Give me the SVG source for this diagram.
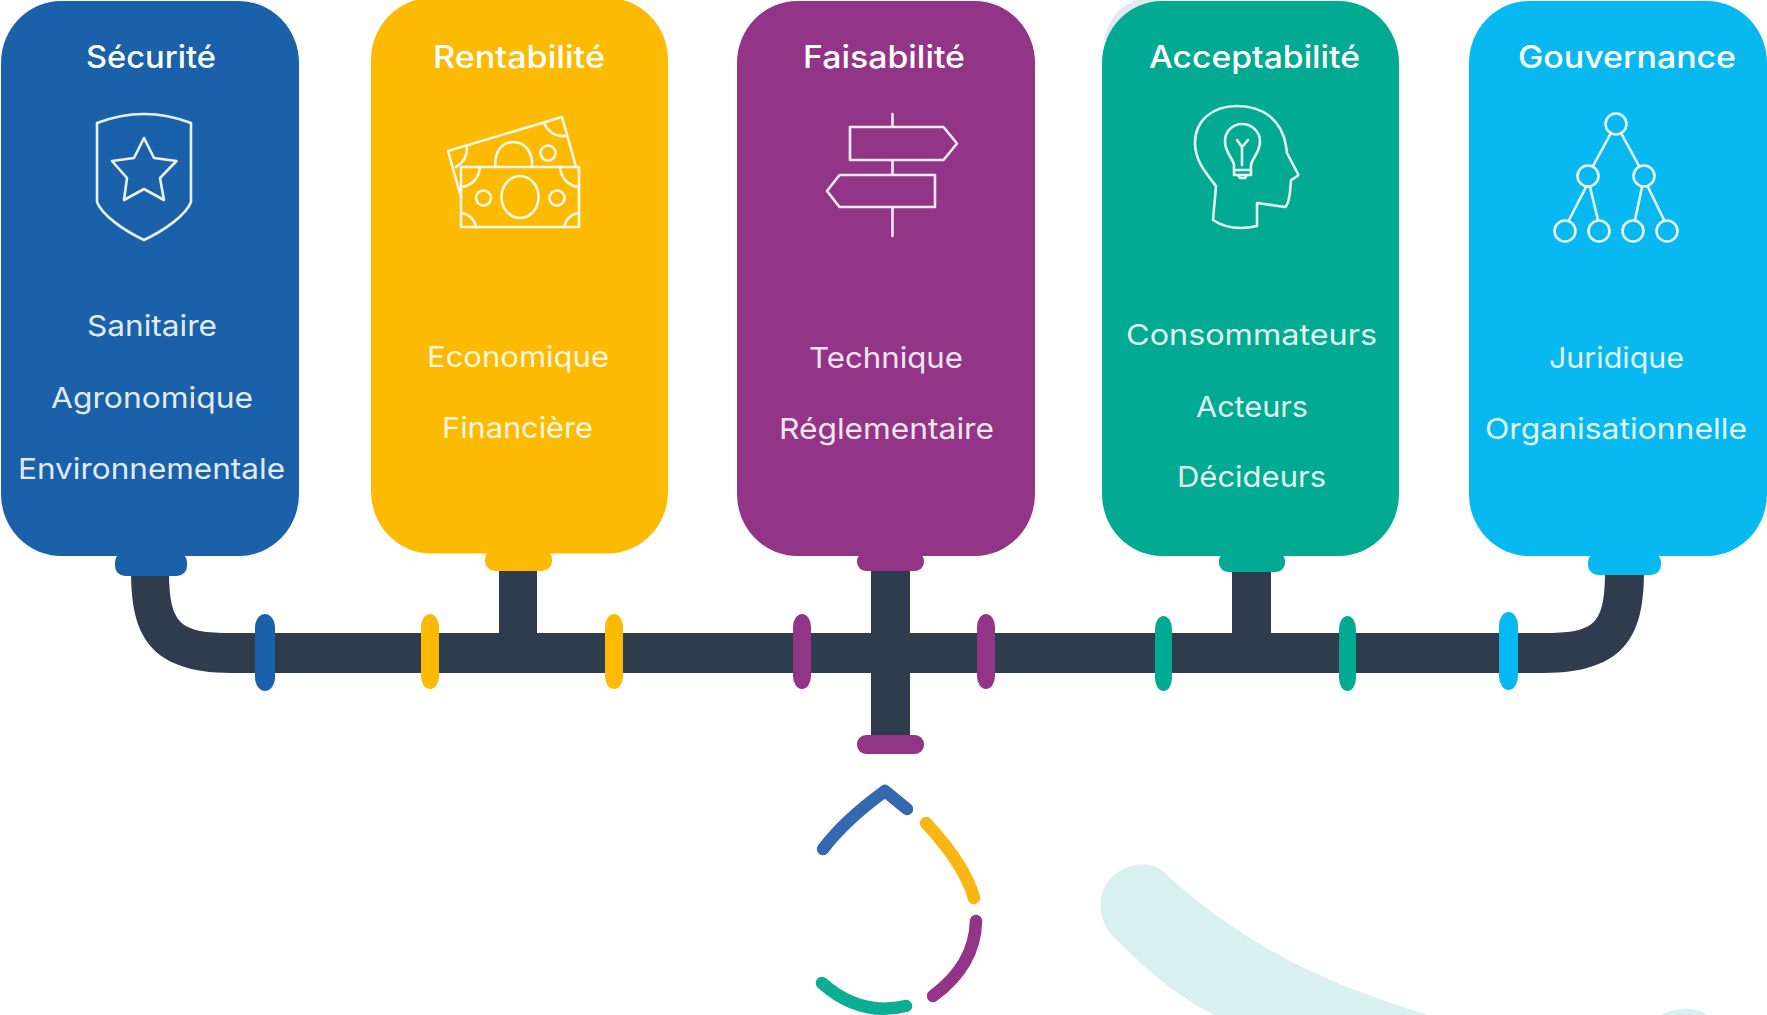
<svg xmlns="http://www.w3.org/2000/svg" width="1767" height="1015" viewBox="0 0 1767 1015">
<style>
.t{font-family:"Inter","Noto Sans","Liberation Sans",sans-serif;fill:#fff}
.h{font-size:31px;font-weight:500}
.b{font-size:29px;font-weight:400;fill-opacity:.9}
.i{fill:none;stroke:#fff;stroke-width:2.6;stroke-linejoin:round;stroke-linecap:round;stroke-opacity:.9}
.blue{fill:#1a61a9}.yellow{fill:#fcba03}.purple{fill:#933587}.green{fill:#03aa92}.cyan{fill:#08b9f1}
.pipe{fill:#2f3c4e}
.drop{fill:none;stroke-width:12.5;stroke-linecap:round;stroke-linejoin:round}
</style>
<rect width="1767" height="1015" fill="#fff"/>
<g id="background">
<path d="M1104 40C1108 20 1118 8 1135 0L1160 0L1160 40Z" fill="#e2e9f2"/>
<path d="M1167 875C1153 858 1125 862 1109 880C1097 895 1098 918 1110 933C1140 965 1175 995 1214 1015L1428 1015C1330 985 1250 950 1167 875Z" fill="#d9f1ee"/>
<path d="M1661 1015Q1686 1002 1708 1015Z" fill="#d9f1ee"/>
</g>
<g id="connectors">
<path class="pipe" d="M131 570C131 630 145 673 232 673L232 633C180 633 169 625 169 570Z"/>
<path class="pipe" d="M1644 570C1644 630 1630 673 1543 673L1543 633C1595 633 1605 625 1605 570Z"/>
<rect class="pipe" x="230" y="633" width="1315" height="40"/>
<rect class="pipe" x="499" y="565" width="38" height="75"/>
<rect class="pipe" x="871" y="565" width="39" height="175"/>
<rect class="pipe" x="1232" y="565" width="39" height="75"/>
<rect class="blue" x="255" y="614" width="20" height="77" rx="10" ry="14"/>
<rect class="yellow" x="421" y="614" width="18" height="75" rx="9" ry="13"/>
<rect class="yellow" x="605" y="614" width="18" height="75" rx="9" ry="13"/>
<rect class="purple" x="793" y="614" width="18" height="75" rx="9" ry="13"/>
<rect class="purple" x="977" y="614" width="18" height="75" rx="9" ry="13"/>
<rect class="green" x="1155" y="616" width="17" height="75" rx="8.5" ry="13"/>
<rect class="green" x="1339" y="616" width="17" height="75" rx="8.5" ry="13"/>
<rect class="cyan" x="1499" y="612" width="19" height="78" rx="9.5" ry="14"/>
<rect class="purple" x="857" y="735" width="67" height="19" rx="9"/>
</g>
<g id="node-securite">
<rect class="blue" x="1" y="1" width="298" height="555" rx="60" ry="62"/>
<rect class="blue" x="115" y="552" width="72" height="24" rx="10"/>
<text class="t h" x="86" y="68" textLength="130" lengthAdjust="spacingAndGlyphs">Sécurité</text>
<path class="i" d="M97 123Q144 105 191 123L191 202C186 215 165 230 144 240C123 230 102 215 97 202Z"/>
<path class="i" d="M144 138L154 158L176.500 161L160 178L164 200L144 189L124 200L127 178L112 161L134 158Z"/>
<text class="t b" x="87" y="336" textLength="130" lengthAdjust="spacingAndGlyphs">Sanitaire</text>
<text class="t b" x="51" y="408" textLength="202" lengthAdjust="spacingAndGlyphs">Agronomique</text>
<text class="t b" x="18" y="479" textLength="267" lengthAdjust="spacingAndGlyphs">Environnementale</text>
</g>
<g id="node-rentabilite">
<rect class="yellow" x="371" y="-2" width="297" height="555.500" rx="60" ry="62"/>
<rect class="yellow" x="485" y="549" width="67" height="22" rx="10"/>
<text class="t h" x="433" y="68" textLength="172" lengthAdjust="spacingAndGlyphs">Rentabilité</text>
<path class="i" d="M461 197L448 151L562 117L576 167M467 148C467 157 463 163 456 167M544 123C549 133 556 137 566 136M495.500 167C494 152 502 142 513 142C525 142 533 152 532 167"/>
<circle class="i" cx="548" cy="153" r="7.500"/>
<rect class="i" x="461" y="167" width="118" height="60"/>
<ellipse class="i" cx="520" cy="197" rx="18.500" ry="21"/>
<circle class="i" cx="483.500" cy="198" r="7.500"/>
<circle class="i" cx="557" cy="198" r="7.500"/>
<path class="i" d="M480 167C479 178 472 186 461 187M560 167C561 178 568 186 579 187M461 213C469 214 475 220 476 227M579 213C571 214 565 220 564.500 227"/>
<text class="t b" x="427" y="367" textLength="182" lengthAdjust="spacingAndGlyphs">Economique</text>
<text class="t b" x="442" y="438" textLength="151" lengthAdjust="spacingAndGlyphs">Financière</text>
</g>
<g id="node-faisabilite">
<rect class="purple" x="737" y="1" width="298" height="555" rx="60" ry="62"/>
<rect class="purple" x="857" y="552" width="67" height="19" rx="9"/>
<text class="t h" x="803" y="68" textLength="162" lengthAdjust="spacingAndGlyphs">Faisabilité</text>
<path class="i" d="M892.500 114V127M892.500 160V175M892.500 207V236M850 127H943.500L957 143.500L943.500 160H850ZM935 175H839.500L827 191L839.500 207H935Z"/>
<text class="t b" x="809" y="368" textLength="154" lengthAdjust="spacingAndGlyphs">Technique</text>
<text class="t b" x="779" y="439" textLength="215" lengthAdjust="spacingAndGlyphs">Réglementaire</text>
</g>
<g id="node-acceptabilite">
<rect class="green" x="1102" y="1" width="297" height="555" rx="60" ry="62"/>
<rect class="green" x="1219" y="552" width="66" height="20" rx="9"/>
<text class="t h" x="1149" y="68" textLength="211" lengthAdjust="spacingAndGlyphs">Acceptabilité</text>
<path class="i" d="M1213 220L1216 186C1205 172 1195 160 1195 143C1195 120 1213 106 1237 106C1263 106 1282 120 1286 146L1287 153L1298 174C1299 176 1297 176 1291 180L1290 192C1289 200 1287 206 1285 207L1257 203L1257 226C1240 230 1225 228 1213 220Z"/>
<path class="i" d="M1234 170V165C1233 158 1225 153 1225 141C1225 132 1232 124 1242 124C1252 124 1260 132 1260 141C1260 153 1252 158 1251 165V175H1234V170H1251M1238 175L1240 178H1245L1247 175M1242 165V147M1237 140L1242 147L1248 140"/>
<text class="t b" x="1126" y="345" textLength="251" lengthAdjust="spacingAndGlyphs">Consommateurs</text>
<text class="t b" x="1196" y="417" textLength="112" lengthAdjust="spacingAndGlyphs">Acteurs</text>
<text class="t b" x="1177" y="487" textLength="149" lengthAdjust="spacingAndGlyphs">Décideurs</text>
</g>
<g id="node-gouvernance">
<rect class="cyan" x="1469" y="1" width="298" height="555" rx="60" ry="62"/>
<rect class="cyan" x="1588" y="552" width="73" height="23" rx="10"/>
<text class="t h" x="1518" y="68" textLength="218" lengthAdjust="spacingAndGlyphs">Gouvernance</text>
<g class="i">
<circle cx="1616" cy="124" r="10.500"/><circle cx="1588" cy="176" r="10.500"/><circle cx="1644" cy="176" r="10.500"/>
<circle cx="1565" cy="231" r="10.500"/><circle cx="1599" cy="231" r="10.500"/><circle cx="1633" cy="231" r="10.500"/><circle cx="1667" cy="231" r="10.500"/>
<path d="M1611 133L1593 166M1621 133L1639 166M1586 187L1569 220M1590 187L1598 220M1642 187L1635 220M1648 187L1664 220"/>
</g>
<text class="t b" x="1549" y="368" textLength="135" lengthAdjust="spacingAndGlyphs">Juridique</text>
<text class="t b" x="1485" y="439" textLength="262" lengthAdjust="spacingAndGlyphs">Organisationnelle</text>
</g>
<g id="drop">
<path class="drop" stroke="#3469b1" d="M823 849Q845 820 885 791L907 809"/>
<path class="drop" stroke="#fab713" d="M926 823Q965 865 974 898"/>
<path class="drop" stroke="#933587" d="M976 921Q975 965 933 996"/>
<path class="drop" stroke="#0bae95" d="M822 983Q860 1017 906 1006"/>
</g>
</svg>
